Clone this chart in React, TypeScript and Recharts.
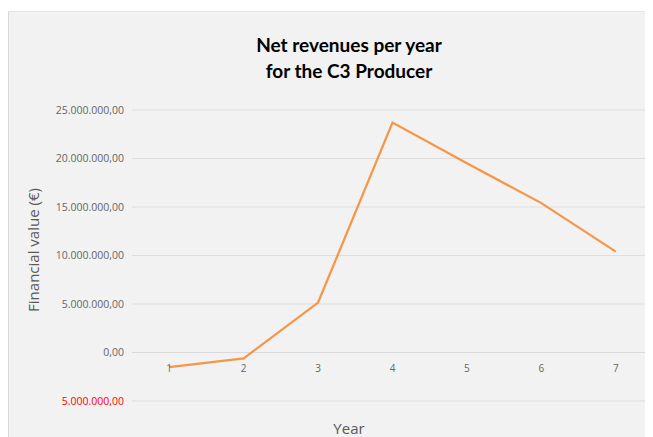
import React from 'react';
import { LineChart, Line, XAxis, YAxis, CartesianGrid, ReferenceLine, LabelList } from 'recharts';

const years = ['1', '2', '3', '4', '5', '6', '7'];
const netRevenues = [-1500000, -600000, 5150000, 23700000, 19500000, 15400000, 10400000];
const yTicks = [-5000000, 0, 5000000, 10000000, 15000000, 20000000, 25000000];
const titleLines = ['Net revenues per year', 'for the C3 Producer'];
const yAxisTitle = 'Financial value (€)';
const xAxisTitle = 'Year';

const data = years.map((y, i) => ({ year: y, value: netRevenues[i] }));

const fmt = (v: number) => {
  const [int, dec] = Math.abs(v).toFixed(2).split('.');
  return int.replace(/\B(?=(\d{3})+(?!\d))/g, '.') + ',' + dec;
};

const YTick = (props: any) => {
  const { x, y, payload } = props;
  const v = payload.value as number;
  return (
    <text x={x} y={y} dy={3.5} textAnchor="end" fontFamily="'Open Sans', sans-serif" fontSize={10.5}
      fill={v < 0 ? '#ff0000' : '#666666'}>
      {fmt(v)}
    </text>
  );
};

export default function App() {
  return (
    <div style={{ position: 'relative', width: 645, height: 429 }}>
      <div style={{ position: 'absolute', left: 0, top: 3, right: 0, bottom: 0, background: '#f2f2f2', borderLeft: '1px solid #d9d9d9', borderTop: '1px solid #e6e6e6' }} />
      <div style={{ position: 'absolute', left: 191, top: 24, width: 300, textAlign: 'center', fontFamily: "Lato, 'Open Sans', sans-serif", fontWeight: 'bold', fontSize: 19, lineHeight: '26px', color: '#000' }}>
        {titleLines.map((t) => <div key={t}>{t}</div>)}
      </div>
      <div style={{ position: 'absolute', left: 241, top: 410, width: 200, textAlign: 'center', fontFamily: "'Open Sans', sans-serif", fontSize: 15, lineHeight: '20px', color: '#595959' }}>
        {xAxisTitle}
      </div>
      <div style={{ position: 'absolute', left: 25, top: 242, width: 0, height: 0 }}>
        <div style={{ position: 'absolute', transform: 'translate(-50%, -50%) rotate(-90deg)', whiteSpace: 'nowrap', fontFamily: "'Open Sans', sans-serif", fontSize: 15, color: '#595959' }}>
          {yAxisTitle}
        </div>
      </div>
      <div style={{ position: 'absolute', left: 0, top: 0 }}>
        <LineChart width={645} height={429} data={data} margin={{ top: 102, right: 0, bottom: 0, left: 0 }}>
          <CartesianGrid vertical={false} stroke="#dedede" />
          <XAxis dataKey="year" scale="band" tick={false} axisLine={false} tickLine={false} height={36} />
          <YAxis domain={[-5000000, 25000000]} ticks={yTicks} width={124} axisLine={false} tickLine={false} tick={<YTick />} tickMargin={2} interval={0} />
          <ReferenceLine y={0} stroke="#d9d9d9" />
          <Line dataKey={() => 0} stroke="none" dot={false} activeDot={false} isAnimationActive={false}>
            <LabelList dataKey="year" position="bottom" offset={12} fill="#666666" fontSize={10} fontFamily="'Open Sans', sans-serif" />
          </Line>
          <Line dataKey="value" stroke="#f79646" strokeWidth={2.25} dot={false} activeDot={false} isAnimationActive={false} />
        </LineChart>
      </div>
    </div>
  );
}
